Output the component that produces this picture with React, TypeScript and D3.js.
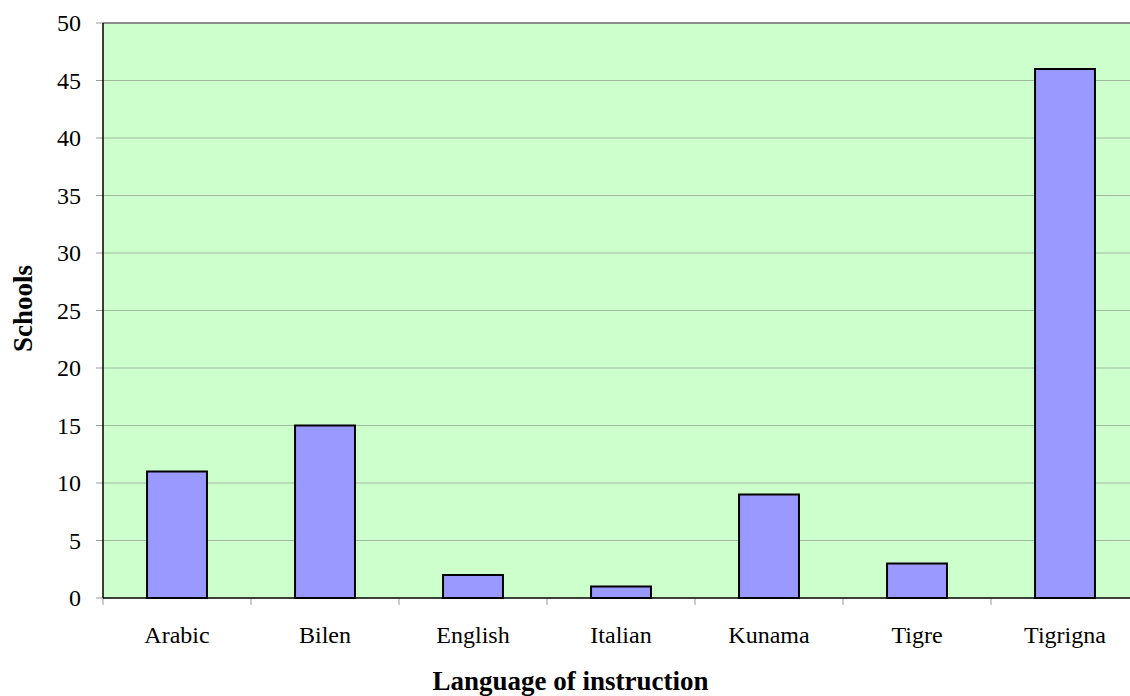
import React from "react";
import * as d3 from "d3";

const categories = ["Arabic", "Bilen", "English", "Italian", "Kunama", "Tigre", "Tigrigna"];
const schools = [11, 15, 2, 1, 9, 3, 46];
const yTicks = [0, 5, 10, 15, 20, 25, 30, 35, 40, 45, 50];

const W = 1130, H = 696;
const L = 103, R = 1139, T = 23, B = 598;

export default function App() {
  const x = d3.scaleBand<string>().domain(categories).range([L, R]).paddingInner(0).paddingOuter(0);
  const y = d3.scaleLinear().domain([0, 50]).range([B, T]);
  const bw = x.bandwidth();
  const barW = bw * 0.405;
  const font = "Liberation Serif, Times New Roman, DejaVu Serif, serif";
  return (
    <svg width={W} height={H} style={{ position: "absolute", left: 0, top: 0, fontFamily: font }}>
      <rect x={L} y={T} width={R - L} height={B - T} fill="#CCFFCC" />
      {yTicks.slice(1).map((t) => (
        <line key={t} x1={L} x2={R} y1={y(t)} y2={y(t)} stroke={t === 50 ? "#8c8c8c" : "#9fb89f"} strokeWidth={t === 50 ? 2 : 1} />
      ))}
      {yTicks.map((t) => (
        <g key={"yt" + t}>
          <line x1={L - 7} x2={L} y1={y(t)} y2={y(t)} stroke="#999" strokeWidth={1} />
          <text x={81} y={y(t)} dy="0.35em" textAnchor="end" style={{ fontSize: "24px", fontFamily: font }} fill="#000">{t}</text>
        </g>
      ))}
      {categories.map((c, i) => (
        <g key={c}>
          <rect
            x={(x(c) as number) + bw / 2 - barW / 2}
            y={y(schools[i])}
            width={barW}
            height={B - y(schools[i])}
            fill="#9999FF"
            stroke="#000"
            strokeWidth={2}
          />
          <text x={(x(c) as number) + bw / 2} y={643} textAnchor="middle" style={{ fontSize: "24px", fontFamily: font }} fill="#000">{c}</text>
        </g>
      ))}
      {categories.map((c) => (
        <line key={"xt" + c} x1={(x(c) as number)} x2={(x(c) as number)} y1={B} y2={B + 7} stroke="#999" strokeWidth={1} />
      ))}
      <line x1={L} x2={R} y1={B} y2={B} stroke="#000" strokeWidth={1.5} />
      <line x1={L} x2={L} y1={T} y2={B} stroke="#000" strokeWidth={1.5} />
      <text x={570.5} y={690} textAnchor="middle" style={{ fontSize: "27px", fontWeight: "bold", fontFamily: font }} fill="#000">Language of instruction</text>
      <text transform={`translate(32, 308.5) rotate(-90)`} textAnchor="middle" style={{ fontSize: "27px", fontWeight: "bold", fontFamily: font }} fill="#000">Schools</text>
    </svg>
  );
}
